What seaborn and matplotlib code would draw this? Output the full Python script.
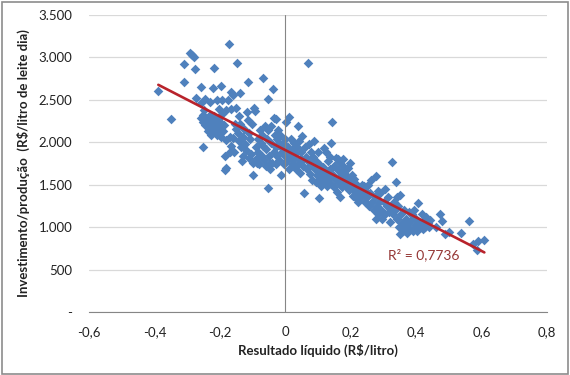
import numpy as np
import pandas as pd
import matplotlib
matplotlib.use('Agg')
import matplotlib.pyplot as plt
from matplotlib.ticker import FuncFormatter
from matplotlib.patches import Rectangle
import seaborn as sns

# --- dados (Resultado líquido x Investimento/produção) ---
resultado = [
    # -0,40 a -0,25
    -0.388, -0.350, -0.309, -0.309, -0.292, -0.285, -0.279, -0.277, -0.272, -0.259,
    -0.252, -0.257, -0.249, -0.257, -0.244, -0.250, -0.252,
    # -0,25 a -0,18
    -0.229, -0.209, -0.193, -0.217, -0.221, -0.196, -0.240, -0.235, -0.230, -0.225,
    -0.220, -0.215, -0.212, -0.208, -0.205, -0.200, -0.198, -0.195, -0.192, -0.190,
    -0.188, -0.185, -0.184, -0.182, -0.180, -0.180, -0.235, -0.245, -0.228, -0.218,
    -0.203, -0.210, -0.222,
    # -0,18 a -0,10
    -0.172, -0.147, -0.167, -0.160, -0.137, -0.175, -0.165, -0.150, -0.155, -0.170,
    -0.168, -0.160, -0.158, -0.150, -0.145, -0.140, -0.138, -0.135, -0.130, -0.128,
    -0.125, -0.122, -0.120, -0.118, -0.115, -0.113, -0.112, -0.110, -0.108, -0.105,
    -0.102, -0.100, -0.165, -0.142, -0.132,
    # -0,10 a -0,02
    -0.099, -0.095, -0.092, -0.090, -0.088, -0.085, -0.083, -0.080, -0.078, -0.075,
    -0.072, -0.070, -0.067, -0.065, -0.063, -0.060, -0.058, -0.055, -0.054, -0.054,
    -0.052, -0.050, -0.048, -0.045, -0.043, -0.040, -0.038, -0.036, -0.034, -0.032,
    -0.030, -0.028, -0.026, -0.024, -0.022, -0.020, -0.086, -0.068, -0.046, -0.030,
    # -0,02 a 0,06
    -0.018, -0.015, -0.012, -0.010, -0.008, -0.005, -0.002, 0.000, 0.003, 0.005,
    0.008, 0.010, 0.012, 0.014, 0.016, 0.018, 0.020, 0.022, 0.025, 0.028,
    0.030, 0.032, 0.035, 0.038, 0.040, 0.042, 0.045, 0.048, 0.050, 0.052,
    0.055, 0.058, 0.060, -0.014, 0.026, 0.044,
    # 0,06 a 0,14
    0.062, 0.065, 0.068, 0.070, 0.072, 0.075, 0.078, 0.080, 0.083, 0.085,
    0.088, 0.090, 0.093, 0.095, 0.098, 0.100, 0.103, 0.105, 0.108, 0.110,
    0.113, 0.115, 0.118, 0.120, 0.123, 0.125, 0.128, 0.130, 0.133, 0.135,
    0.138, 0.140, 0.141, 0.143, 0.102,
    # 0,14 a 0,22
    0.145, 0.148, 0.150, 0.153, 0.155, 0.158, 0.160, 0.163, 0.165, 0.168,
    0.170, 0.172, 0.175, 0.178, 0.180, 0.182, 0.185, 0.188, 0.190, 0.193,
    0.195, 0.198, 0.200, 0.203, 0.205, 0.208, 0.210, 0.213, 0.215, 0.218,
    0.220, 0.175, 0.160,
    # 0,22 a 0,32
    0.223, 0.226, 0.230, 0.233, 0.236, 0.240, 0.243, 0.246, 0.250, 0.253,
    0.256, 0.260, 0.263, 0.266, 0.270, 0.273, 0.276, 0.278, 0.280, 0.283,
    0.286, 0.290, 0.293, 0.296, 0.300, 0.303, 0.306, 0.310, 0.313, 0.316,
    0.320, 0.282,
    # 0,32 a 0,45
    0.326, 0.323, 0.328, 0.332, 0.335, 0.338, 0.340, 0.342, 0.345, 0.348,
    0.350, 0.351, 0.354, 0.357, 0.360, 0.363, 0.366, 0.369, 0.372, 0.375,
    0.378, 0.381, 0.384, 0.387, 0.390, 0.393, 0.396, 0.400, 0.403, 0.406,
    0.410, 0.413, 0.416, 0.420, 0.423, 0.426, 0.430, 0.435, 0.440, 0.443,
    # > 0,45
    0.460, 0.472, 0.480, 0.488, 0.500, 0.536, 0.560, 0.573, 0.586, 0.588, 0.608,
]

investimento = [
    2603, 2273, 2918, 2710, 3048, 3030, 3008, 2859, 2525, 2647,
    1943, 2459, 2380, 2282, 2509, 2320, 2240,
    2477, 2497, 2497, 2875, 2643, 2659, 2280, 2230, 2320, 2180,
    2260, 2130, 2210, 2080, 2280, 2160, 2230, 2060, 2330, 2130,
    2200, 1840, 1671, 1700, 2380, 2030, 2130, 2200, 2090, 2310,
    2390, 2180, 2140,
    3154, 2930, 2592, 2560, 2576, 2500, 2390, 2400, 2220, 2060,
    1890, 2050, 1880, 2160, 2110, 2010, 2210, 1940, 1840, 2060,
    2160, 1980, 1910, 2360, 2260, 2710, 1810, 2110, 2040, 1860,
    2210, 1760, 1960, 2310, 1780,
    1620, 2400, 2370, 1940, 1820, 2040, 1890, 1740, 2140, 1990,
    1840, 2090, 2761, 1790, 2190, 1920, 1720, 2040, 1463, 2509,
    2140, 1840, 1690, 1990, 2190, 1760, 2623, 1890, 2290, 2090,
    1740, 1940, 2040, 1840, 2140, 1990, 1760, 1960, 1760, 2270,
    1790, 2090, 1612, 1890, 1990, 1740, 2040, 1840, 2242, 1790,
    1940, 1690, 2297, 1890, 1820, 2040, 1740, 1920, 1990, 1800,
    1860, 1680, 1940, 2190, 1740, 2020, 1640, 1890, 2070, 1790,
    1720, 1408, 1940, 1940, 1720, 1800,
    1830, 1680, 2930, 1780, 1980, 1630, 1880, 1730, 1560, 1830,
    2020, 1680, 1780, 1530, 1610, 1880, 1341, 1730, 1480, 1650,
    1580, 1710, 1930, 1530, 1630, 1880, 1480, 1780, 1580, 1680,
    1830, 1510, 1994, 2242, 1530,
    1620, 1720, 1470, 1570, 1820, 1420, 1670, 1520, 1770, 1357,
    1620, 1470, 1720, 1570, 1670, 1520, 1620, 1470, 1700, 1570,
    1440, 1750, 1520, 1620, 1470, 1370, 1570, 1420, 1340, 1500,
    1400, 1800, 1800,
    1300, 1450, 1350, 1500, 1400, 1480, 1300, 1420, 1350, 1500,
    1250, 1400, 1550, 1300, 1200, 1350, 1100, 1600, 1250, 1150,
    1300, 1400, 1200, 1100, 1300, 1450, 1150, 1250, 1350, 1180,
    1060, 1430,
    1770, 1250, 1150, 1300, 1200, 1534, 1350, 1100, 1250, 1000,
    1380, 924, 1150, 1050, 950, 1200, 1000, 1100, 930, 1050,
    1180, 980, 1080, 1150, 950, 1200, 1020, 1100, 960, 1290,
    1050, 1000, 1150, 980, 1080, 1000, 1120, 1050, 1000, 1085,
    1000, 1160, 1074, 924, 940, 936, 1070, 806, 728, 838, 846,
]

r2_texto = "R² = 0,7736"
x_ticks = [-0.6, -0.4, -0.2, 0.0, 0.2, 0.4, 0.6, 0.8]
y_ticks = [0, 500, 1000, 1500, 2000, 2500, 3000, 3500]

AZUL = '#4F81BD'
VERMELHO = '#B8232B'
CINZA = '#868686'

df = pd.DataFrame({'resultado': resultado, 'investimento': investimento})

sns.set_style('white')
plt.rcParams['font.family'] = ['Lato', 'DejaVu Sans']

fig = plt.figure(figsize=(5.7, 3.75), dpi=100)
ax = fig.add_axes([0.156, 0.168, 0.804, 0.792])

sns.regplot(data=df, x='resultado', y='investimento', ax=ax, ci=None,
            marker='D', color=AZUL,
            scatter_kws={'s': 24, 'linewidths': 0, 'alpha': 1},
            line_kws={'color': VERMELHO, 'lw': 1.9})

ax.set_xlim(-0.6, 0.8)
ax.set_ylim(0, 3500)
ax.set_xticks(x_ticks)
ax.set_yticks(y_ticks)

def fmt_x(v, pos):
    if abs(v) < 1e-9:
        return '0'
    return f'{v:.1f}'.replace('.', ',')

def fmt_y(v, pos):
    if v == 0:
        return '-'
    return f'{int(v):,}'.replace(',', '.')

ax.xaxis.set_major_formatter(FuncFormatter(fmt_x))
ax.yaxis.set_major_formatter(FuncFormatter(fmt_y))

# grade horizontal e eixo vertical em x = 0
ax.yaxis.grid(True, color='#D9D9D9', lw=0.9)
ax.xaxis.grid(False)
ax.set_axisbelow(True)
ax.axvline(0, color=CINZA, lw=0.8, zorder=1)

for s in ['left', 'right', 'top']:
    ax.spines[s].set_visible(False)
ax.spines['bottom'].set_color(CINZA)
ax.spines['bottom'].set_linewidth(0.8)

ax.tick_params(axis='x', direction='out', length=3, width=0.8, color=CINZA,
               pad=7, labelsize=9.5, labelcolor='#222222')
ax.tick_params(axis='y', length=0, pad=12, labelsize=9.5, labelcolor='#222222')

ax.set_xlabel('Resultado líquido (R$/litro)', fontsize=9.5, fontweight='bold',
              color='#222222', labelpad=4)
ax.set_ylabel('Investimento/produção  (R$/litro de leite dia)', fontsize=9.5,
              fontweight='bold', color='#222222', labelpad=6)

ax.text(0.315, 680, r2_texto, color='#953735', fontsize=10, va='center', ha='left')

# moldura do gráfico
fig.patches.append(Rectangle((0.003, 0.004), 0.994, 0.992, transform=fig.transFigure,
                             fill=False, edgecolor='#8C8C8C', lw=1.2))

fig.savefig('out.png', dpi=100)
